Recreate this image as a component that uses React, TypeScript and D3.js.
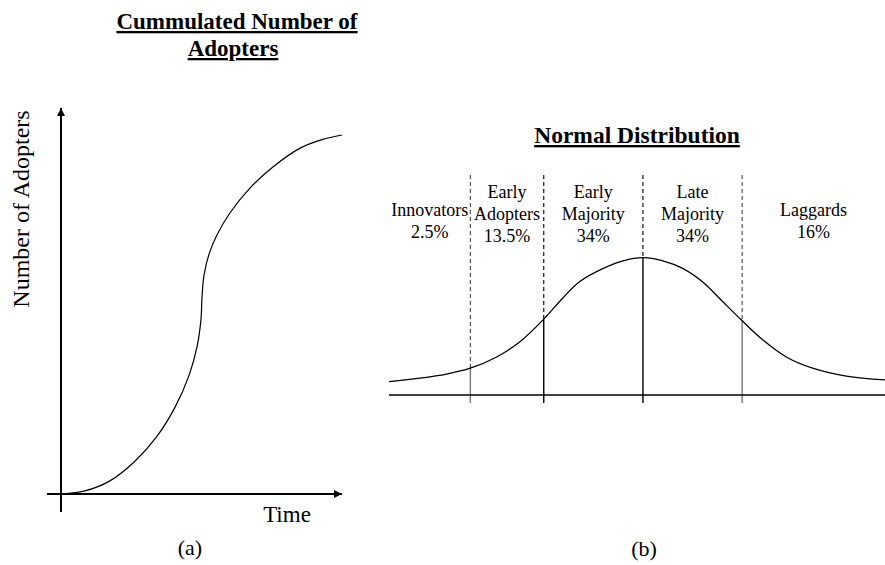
import React from 'react';
import * as d3 from 'd3';

const W = 885;
const H = 565;

// Panel (a): cumulative adopters over time
const adoptionTime = [0, 8.5, 17.4, 26.3, 34.2, 40.6, 45.6, 48.4, 49.8, 50.2, 50.9, 52.7, 55.5, 60.1, 66.9, 75.4, 85.1, 92.9, 100];
const adoptersCum = [0, 0.8, 3.4, 8.5, 15.0, 22.5, 30.8, 38.1, 45.1, 51.3, 56.7, 62.2, 67.1, 72.8, 79.0, 84.7, 89.6, 91.8, 93.0];

// Panel (b): distribution of adopters (x in standard deviations)
const sdPos = [-2.56, -2.25, -1.98, -1.74, -1.48, -1.24, -1.0, -0.81, -0.64, -0.4, -0.2, 0, 0.2, 0.4, 0.6, 0.77, 0.99, 1.21, 1.45, 1.71, 2.05, 2.44];
const density = [0.039, 0.049, 0.061, 0.078, 0.11, 0.155, 0.221, 0.282, 0.33, 0.369, 0.391, 0.4, 0.391, 0.369, 0.33, 0.282, 0.219, 0.16, 0.11, 0.078, 0.055, 0.044];
const boundaries = [-1.74, -1.0, 0, 1.0];
const categories = ['Innovators', 'Early Adopters', 'Early Majority', 'Late Majority', 'Laggards'];
const shares = ['2.5%', '13.5%', '34%', '34%', '16%'];

const FONT = '"Liberation Serif", "Times New Roman", serif';

export default function App() {
  // ---- panel (a)
  const xa = d3.scaleLinear().domain([0, 100]).range([61, 342]);
  const ya = d3.scaleLinear().domain([0, 100]).range([494, 108]);
  const sLine = d3
    .line<number>()
    .x((_, i) => xa(adoptionTime[i]))
    .y((d) => ya(d))
    .curve(d3.curveCatmullRom.alpha(0.5));
  const sPath = sLine(adoptersCum) || '';

  // ---- panel (b)
  const xb = d3.scaleLinear().domain([-2.56, 2.44]).range([389, 885]);
  const yb = d3.scaleLinear().domain([0, 0.4]).range([395, 257.7]);
  const nLine = d3
    .line<number>()
    .x((_, i) => xb(sdPos[i]))
    .y((d) => yb(d))
    .curve(d3.curveCatmullRom.alpha(0.5));
  const nPath = nLine(density) || '';
  const densityAt = d3.scaleLinear().domain(sdPos).range(density);
  const edges = [xb.domain()[0], ...boundaries, xb.domain()[1]];
  const dashColors = ['#444', '#000', '#000', '#444'];
  const solidColors = ['#777', '#000', '#000', '#777'];

  return (
    <svg
      width={W}
      height={H}
      viewBox={`0 0 ${W} ${H}`}
      style={{ position: 'absolute', left: 0, top: 0, background: '#fff' }}
      fontFamily={FONT}
    >
      <rect x={0} y={0} width={W} height={H} fill="#fff" />
      <defs>
        <marker id="arr" viewBox="0 0 10 10" refX="10" refY="5" markerWidth="10" markerHeight="8" markerUnits="userSpaceOnUse" orient="auto">
          <path d="M0,0 L10,5 L0,10 z" fill="#000" />
        </marker>
      </defs>

      {/* Panel (a) title */}
      <text x={237} y={29} textAnchor="middle" fontSize={23} fontWeight="bold" style={{ textDecoration: 'underline' }}>
        Cummulated Number of
      </text>
      <text x={233} y={56} textAnchor="middle" fontSize={23} fontWeight="bold" style={{ textDecoration: 'underline' }}>
        Adopters
      </text>

      {/* Axes (a) */}
      <line x1={xa(0)} y1={512} x2={xa(0)} y2={ya(100)} stroke="#000" strokeWidth={2} markerEnd="url(#arr)" />
      <line x1={47} y1={ya(0)} x2={xa(100)} y2={ya(0)} stroke="#000" strokeWidth={2} markerEnd="url(#arr)" />
      <path d={sPath} fill="none" stroke="#000" strokeWidth={1.2} />

      <text transform="translate(29,209) rotate(-90)" textAnchor="middle" fontSize={24}>
        Number of Adopters
      </text>
      <text x={287} y={522} textAnchor="middle" fontSize={23}>
        Time
      </text>
      <text x={190} y={555} textAnchor="middle" fontSize={22}>
        (a)
      </text>

      {/* Panel (b) title */}
      <text x={637} y={143} textAnchor="middle" fontSize={23.5} fontWeight="bold" style={{ textDecoration: 'underline' }}>
        Normal Distribution
      </text>

      {/* dividers */}
      {boundaries.map((b, i) => {
        const x = xb(b);
        const yc = yb(densityAt(b));
        return (
          <g key={i}>
            <line x1={x} y1={175} x2={x} y2={yc} stroke={dashColors[i]} strokeWidth={1.1} strokeDasharray="4,3" />
            <line x1={x} y1={yc} x2={x} y2={403} stroke={solidColors[i]} strokeWidth={1.4} />
          </g>
        );
      })}

      <line x1={xb.range()[0]} y1={yb(0)} x2={xb.range()[1]} y2={yb(0)} stroke="#000" strokeWidth={1.5} />
      <path d={nPath} fill="none" stroke="#000" strokeWidth={1.3} />

      {categories.map((c, i) => {
        const cx = (xb(edges[i]) + xb(edges[i + 1])) / 2;
        const lines = [...c.split(' '), shares[i]];
        const y0 = lines.length === 3 ? 198 : 216;
        return (
          <text key={c} x={cx} textAnchor="middle" fontSize={18}>
            {lines.map((l, j) => (
              <tspan key={j} x={cx} y={y0 + j * 22}>
                {l}
              </tspan>
            ))}
          </text>
        );
      })}

      <text x={644} y={556} textAnchor="middle" fontSize={22}>
        (b)
      </text>
    </svg>
  );
}
